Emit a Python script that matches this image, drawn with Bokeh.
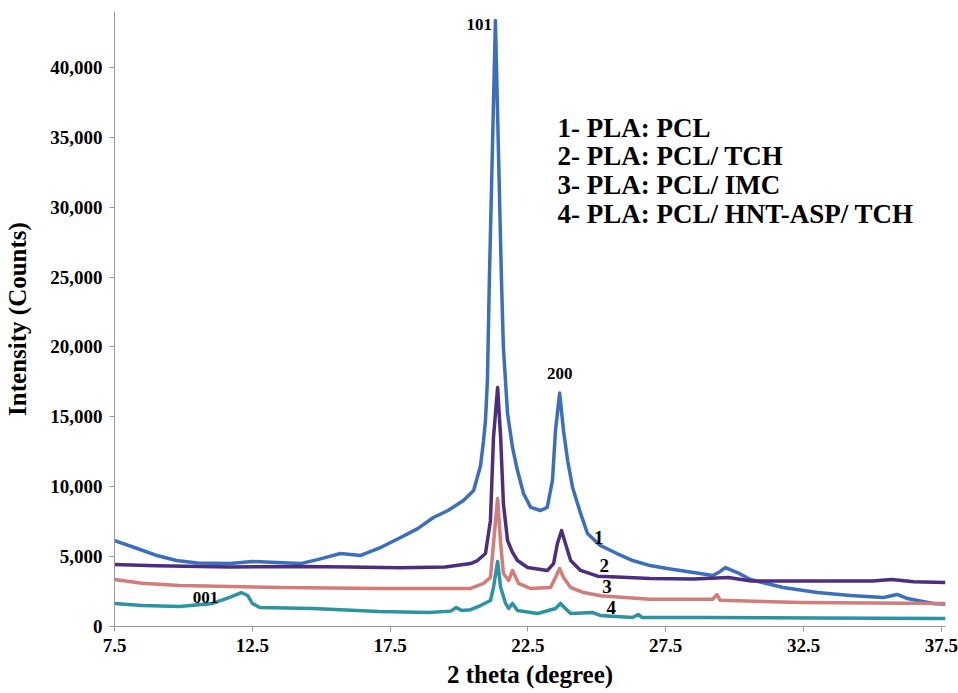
from bokeh.plotting import figure
from bokeh.models import FixedTicker, NumeralTickFormatter, Label, Range1d, CustomJSTickFormatter
from bokeh.embed import file_html
from bokeh.resources import INLINE

# XRD patterns: 2 theta (degree) vs intensity (counts)
x1 = [7.5, 8.3, 9.0, 9.75, 10.5, 11.7, 12.5, 13.2, 14.25, 14.9, 15.7, 16.43, 17.1, 17.88, 18.5, 19.07,
      19.6, 20.16, 20.53, 20.78, 20.89, 20.96, 21.03, 21.1, 21.32, 21.54, 21.61, 21.76, 21.94, 22.12,
      22.34, 22.6, 22.96, 23.2, 23.39, 23.5, 23.65, 23.79, 23.94, 24.12, 24.41, 24.66, 25.12, 25.73,
      26.3, 26.93, 27.55, 28.75, 29.2, 29.45, 29.66, 30.1, 30.57, 31.76, 33.0, 34.2, 35.4, 35.9, 36.27,
      37.2, 37.65]
y1 = [6150, 5600, 5100, 4720, 4550, 4500, 4650, 4600, 4500, 4800, 5220, 5080, 5600, 6370, 7000, 7800,
      8300, 9020, 9730, 11500, 13310, 14740, 17600, 24760, 43360, 24760, 19960, 15240, 12810, 11160,
      9520, 8520, 8300, 8520, 10450, 14020, 16700, 14020, 11880, 9950, 8090, 6650, 5800, 5220,
      4720, 4360, 4150, 3790, 3650, 3900, 4220, 3860, 3360, 2790, 2430, 2220, 2080, 2290, 2000,
      1650, 1600]

x2 = [7.5, 9.0, 11.7, 14.25, 16.0, 17.85, 19.5, 20.42, 20.67, 20.96, 21.14, 21.25, 21.4, 21.51, 21.61,
      21.76, 21.94, 22.12, 22.49, 23.21, 23.43, 23.57, 23.72, 23.86, 24.05, 24.41, 25.03, 25.73, 26.93,
      28.5, 29.77, 30.6, 33.0, 35.0, 35.7, 36.5, 37.65]
y2 = [4430, 4350, 4250, 4300, 4250, 4200, 4250, 4500, 4720, 5220, 7590, 13520, 17100, 13520, 8800,
      6150, 5300, 4720, 4220, 4010, 4500, 5940, 6870, 5940, 4720, 4010, 3600, 3550, 3430,
      3400, 3510, 3250, 3250, 3250, 3360, 3200, 3150]

x3 = [7.5, 8.5, 9.86, 13.5, 17.1, 18.9, 20.42, 20.89, 21.14, 21.25, 21.4, 21.51, 21.61, 21.8, 21.94,
      22.16, 22.59, 23.32, 23.5, 23.65, 23.79, 24.05, 24.52, 25.14, 26.93, 29.2, 29.36, 29.47, 32.4, 37.65]
y3 = [3360, 3100, 2930, 2790, 2720, 2720, 2720, 3080, 3510, 5940, 9160, 5940, 3790, 3290, 4010,
      3080, 2720, 2790, 3510, 4150, 3510, 2790, 2430, 2200, 1950, 1950, 2290, 1880, 1720, 1650]

x4 = [7.5, 8.5, 9.86, 11.06, 11.68, 12.1, 12.33, 12.5, 12.77, 14.7, 17.1, 18.9, 19.7, 19.9, 20.1,
      20.42, 20.78, 21.14, 21.25, 21.4, 21.51, 21.69, 21.8, 21.94, 22.12, 22.85, 23.5, 23.68, 23.86,
      24.05, 24.86, 25.12, 26.3, 26.5, 26.65, 29.0, 33.0, 37.65]
y4 = [1650, 1500, 1430, 1650, 2080, 2430, 2220, 1650, 1360, 1290, 1070, 1000, 1100, 1360, 1140,
      1200, 1500, 1860, 2790, 4650, 2790, 1650, 1290, 1650, 1140, 930, 1290, 1650, 1290,
      930, 1000, 790, 640, 860, 640, 640, 600, 570]

series_colors = ["#3b6fbd", "#4d2e7e", "#d27d7a", "#2c93a2"]
legend_lines = ["1- PLA: PCL", "2- PLA: PCL/ TCH", "3- PLA: PCL/ IMC", "4- PLA: PCL/ HNT-ASP/ TCH"]
x_ticks = [7.5, 12.5, 17.5, 22.5, 27.5, 32.5, 37.5]
y_ticks = [0, 5000, 10000, 15000, 20000, 25000, 30000, 35000, 40000]

FONT = "Liberation Serif"

p = figure(width=958, height=693, output_backend="svg", toolbar_location=None,
           x_range=Range1d(7.5, 37.65), y_range=Range1d(0, 44000),
           min_border_left=114, min_border_right=13, min_border_top=11, min_border_bottom=67)
p.outline_line_color = None
p.xgrid.visible = False
p.ygrid.visible = False

for xs, ys, c in zip([x1, x2, x3, x4], [y1, y2, y3, y4], series_colors):
    p.line(xs, ys, line_color=c, line_width=3.5, line_join="round")

for ax in (p.xaxis[0], p.yaxis[0]):
    ax.axis_line_color = "#999999"
    ax.major_tick_line_color = "#999999"
    ax.major_tick_out = 5
    ax.major_tick_in = 0
    ax.minor_tick_line_color = None
    ax.major_label_text_font = FONT
    ax.major_label_text_font_style = "bold"
    ax.major_label_text_font_size = "19px"
    ax.major_label_text_color = "black"
    ax.axis_label_text_font = FONT
    ax.axis_label_text_font_style = "bold"
    ax.axis_label_text_font_size = "25px"
    ax.axis_label_text_color = "black"

p.xaxis.ticker = FixedTicker(ticks=x_ticks)
p.xaxis.formatter = CustomJSTickFormatter(code="return tick.toFixed(1);")
p.xaxis.axis_label = "2 theta (degree)"
p.xaxis.major_label_standoff = 7
p.xaxis.axis_label_standoff = 6

p.yaxis.ticker = FixedTicker(ticks=y_ticks)
p.yaxis.formatter = NumeralTickFormatter(format="0,0")
p.yaxis.axis_label = "Intensity (Counts)"
p.yaxis.major_label_standoff = 7
p.yaxis.axis_label_standoff = 16

# Legend block as plain text lines
for i, t in enumerate(legend_lines):
    p.add_layout(Label(x=23.57, y=35700 - i * 2060, text=t, text_font=FONT, text_font_style="bold",
                       text_font_size="27px", text_baseline="middle", text_color="black"))

# Peak / curve annotations
notes = [("101", 21.2, 43100, "right"), ("200", 23.65, 18100, "center"), ("001", 10.8, 2100, "center"),
         ("1", 24.9, 6400, "left"), ("2", 25.1, 4350, "left"), ("3", 25.2, 2850, "left"), ("4", 25.35, 1350, "left")]
for t, xx, yy, al in notes:
    size = "17px" if len(t) == 3 else "19px"
    p.add_layout(Label(x=xx, y=yy, text=t, text_font=FONT, text_font_style="bold", text_font_size=size,
                       text_align=al, text_baseline="middle", text_color="black"))

open("out.html", "w").write(file_html(p, INLINE))
